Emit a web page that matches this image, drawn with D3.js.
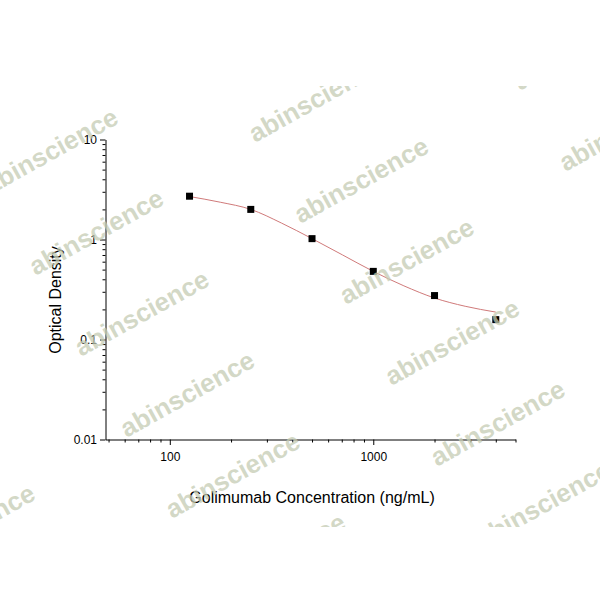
<!DOCTYPE html>
<html>
<head>
<meta charset="utf-8">
<script src="https://cdn.jsdelivr.net/npm/d3@7"></script>
<style>
  html, body { margin: 0; padding: 0; background: #fff; }
  svg { display: block; font-family: "Liberation Sans", Arial, sans-serif; }
</style>
</head>
<body>
<div id="container"></div>
<script>
// measured standards
const concentration = [125, 250, 500, 1000, 2000, 4000];
const opticalDensity = [2.71, 2.0, 1.02, 0.48, 0.275, 0.158];

// fitted curve
const fitConcentration = [125, 177, 250, 354, 500, 707, 1000, 1414, 2000, 2828, 4000];
const fitDensity = [2.69, 2.36, 2.0, 1.46, 1.02, 0.70, 0.48, 0.344, 0.26, 0.215, 0.188];

const xMajor = [100, 1000];
const xMinor = [50, 60, 70, 80, 90, 200, 300, 400, 500, 600, 700, 800, 900, 2000, 3000, 4000, 5000];
const yMajor = [0.01, 0.1, 1, 10];
const yLabels = ["0.01", "0.1", "1", "10"];
const yMinor = [0.02, 0.03, 0.04, 0.05, 0.06, 0.07, 0.08, 0.09,
                0.2, 0.3, 0.4, 0.5, 0.6, 0.7, 0.8, 0.9,
                2, 3, 4, 5, 6, 7, 8, 9];

const xTitle = "Golimumab Concentration (ng/mL)";
const yTitle = "Optical Density";
const watermark = "abinscience";

var W = 600, H = 600;
var svg = d3.select("#container").append("svg")
  .attr("width", W).attr("height", H);

var x = d3.scaleLog().domain([48.3, 5000]).range([105.5, 515.5]);
var y = d3.scaleLog().domain([0.01, 10]).range([439.5, 139.5]);

// x axis: minor ticks first, then majors with labels
svg.append("g")
  .attr("transform", "translate(0," + y.range()[0] + ")")
  .call(d3.axisBottom(x).tickValues(xMinor).tickSize(3).tickSizeOuter(0).tickFormat(""))
  .call(g => g.select(".domain").remove());

svg.append("g")
  .attr("transform", "translate(0," + y.range()[0] + ")")
  .call(d3.axisBottom(x).tickValues(xMajor).tickSize(5.5).tickSizeOuter(0)
        .tickPadding(7).tickFormat(d3.format("d")))
  .call(g => g.selectAll("text").attr("font-size", 12).attr("fill", "#000")
              .attr("font-family", "Liberation Sans, Arial, sans-serif"));

// y axis
svg.append("g")
  .attr("transform", "translate(" + x.range()[0] + ",0)")
  .call(d3.axisLeft(y).tickValues(yMinor).tickSize(3).tickSizeOuter(0).tickFormat(""))
  .call(g => g.select(".domain").remove());

svg.append("g")
  .attr("transform", "translate(" + x.range()[0] + ",0)")
  .call(d3.axisLeft(y).tickValues(yMajor).tickSize(5.5).tickSizeOuter(0)
        .tickPadding(3).tickFormat((d, i) => yLabels[i]))
  .call(g => g.selectAll("text").attr("font-size", 12).attr("fill", "#000")
              .attr("font-family", "Liberation Sans, Arial, sans-serif"));

svg.selectAll(".domain, .tick line").attr("stroke", "#000");

// titles
svg.append("text")
  .attr("x", 312).attr("y", 503)
  .attr("text-anchor", "middle")
  .attr("font-size", 16)
  .text(xTitle);

svg.append("text")
  .attr("transform", "translate(61,300) rotate(-90)")
  .attr("text-anchor", "middle")
  .attr("font-size", 16)
  .text(yTitle);

// fitted curve
var fitData = fitConcentration.map((c, i) => [c, fitDensity[i]]);
var line = d3.line()
  .x(d => x(d[0]))
  .y(d => y(d[1]))
  .curve(d3.curveMonotoneX);

svg.append("path")
  .attr("d", line(fitData))
  .attr("fill", "none")
  .attr("stroke", "#d07a7a")
  .attr("stroke-width", 1);

// points
var pts = concentration.map((c, i) => [c, opticalDensity[i]]);
var sq = 7;
svg.append("g").selectAll("rect")
  .data(pts)
  .enter()
  .append("rect")
  .attr("x", d => x(d[0]) - sq / 2)
  .attr("y", d => y(d[1]) - sq / 2)
  .attr("width", sq)
  .attr("height", sq)
  .attr("fill", "#000");

// watermark lattice
svg.append("clipPath").attr("id", "wmclip")
  .append("rect").attr("x", 0).attr("y", 86).attr("width", W).attr("height", 441);

var wm = svg.append("g").attr("clip-path", "url(#wmclip)");
var base = [-10, 195], colStep = [265, -52], rowStep = [45.5, 81];
for (var i = -1; i <= 3; i++) {
  for (var k = -2; k <= 6; k++) {
    var px = base[0] + i * colStep[0] + k * rowStep[0];
    var py = base[1] + i * colStep[1] + k * rowStep[1];
    if (px < -180 || px > 620 || py < 40 || py > 640) continue;
    wm.append("text")
      .attr("transform", "translate(" + px + "," + py + ") rotate(-29)")
      .attr("font-size", 26)
      .attr("font-weight", "bold")
      .attr("fill", "#c5ccb3")
      .attr("fill-opacity", 0.75)
      .text(watermark);
  }
}
</script>
</body>
</html>
